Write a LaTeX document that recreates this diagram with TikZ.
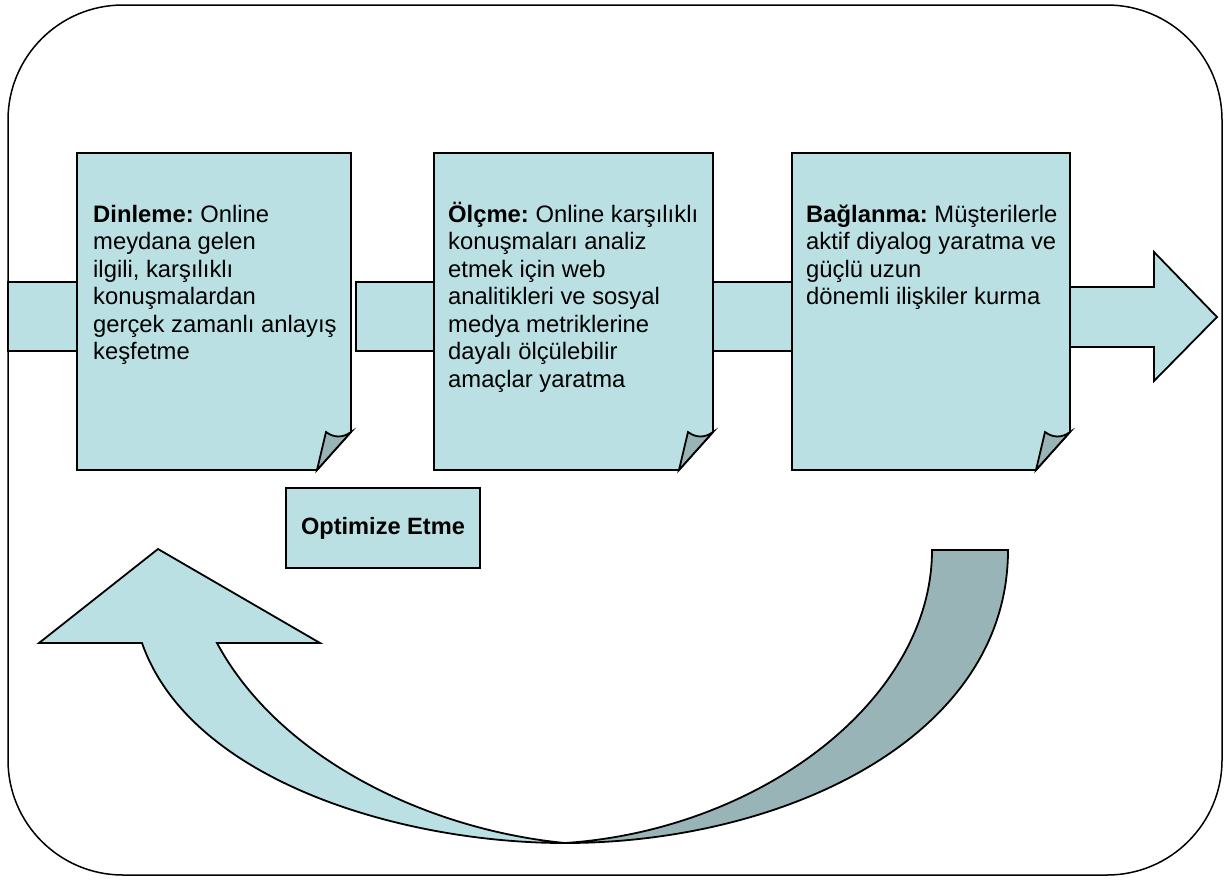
\documentclass[tikz,border=0pt]{standalone}
\usepackage{fontspec}
\setmainfont{Liberation Sans}
\usetikzlibrary{calc}
\definecolor{lightteal}{HTML}{BAE0E3}
\definecolor{darkteal}{HTML}{99B4B7}
\tikzset{
  shape line/.style={draw=black, line width=1.8pt, line join=miter},
  desc/.style={anchor=north west, align=left, inner sep=0pt, font=\fontsize{23.8}{27.5}\selectfont\frenchspacing},
}
% page with folded corner: left x, right x
\newcommand{\docpage}[2]{
  \path[shape line, fill=lightteal] (#1,153) -- (#2,153) -- (#2,432) -- ++(-34,38) -- (#1,470) -- cycle;
  \path[shape line, fill=darkteal] (#2,432) -- ++(-34,38) -- ++(9,-38) .. controls ++(8,6) and ++(-8,6) .. (#2,432) -- cycle;
}
% block between two pages
\newcommand{\joinbar}[2]{ \path[shape line, fill=lightteal] ( #1 , 282 ) rectangle ( #2 , 351 );}
% first line strut
\newcommand{\topline}{\rule{0pt}{22pt}}

\begin{document}
\begin{tikzpicture}[x=1pt, y=-1pt]
        \useasboundingbox (0,0) rectangle (1230,879);
        % frame
        \draw[line width=1.5pt, rounded corners=115pt] (8,5) rectangle (1222,875);
        % bars
        \joinbar{8}{78}
        \joinbar{356}{434}
        \joinbar{712}{792}
        \path[shape line, fill=lightteal] (1070,287) -- (1154,287) -- (1154,252) -- (1217,317)
          -- (1154,381) -- (1154,347) -- (1070,347) -- cycle;
        % pages
        \docpage{77}{351}
        \docpage{434}{713}
        \docpage{792}{1070}
        % texts
        \node[desc] (dinleme) at (93,200) {\topline\textbf{Dinleme:} Online\\meydana gelen\\ilgili, karşılıklı\\konuşmalardan\\gerçek zamanlı anlayış\\keşfetme};
        \node[desc] (olcme) at (448,200) {\topline\textbf{Ölçme:} Online karşılıklı\\konuşmaları analiz\\etmek için web\\analitikleri ve sosyal\\medya metriklerine\\dayalı ölçülebilir\\amaçlar yaratma};
        \node[desc] (baglanma) at (806,200) {\topline\textbf{Bağlanma:} Müşterilerle\\aktif diyalog yaratma ve\\güçlü uzun\\dönemli ilişkiler kurma};
        % optimize box
        \node[shape line, fill=lightteal, minimum width=194pt, minimum height=80pt, inner sep=0pt,
          font=\fontsize{23.6}{27.5}\selectfont\bfseries] (optimize) at (383,528) {Optimize Etme};
        % curved arrow, back part
        \path[shape line, fill=darkteal] (932,550) -- (1008,550) .. controls (1008,740) and (780,843) .. (565,843)
          .. controls (760,830) and (932,700) .. (932,550) -- cycle;
        % curved arrow, front part
        \path[shape line, fill=lightteal] (39,643) -- (158,549) -- (320,643) -- (217,643)
          .. controls (280,760) and (430,830) .. (565,843)
          .. controls (400,843) and (190,780) .. (142,643) -- cycle;
\end{tikzpicture}
\end{document}
